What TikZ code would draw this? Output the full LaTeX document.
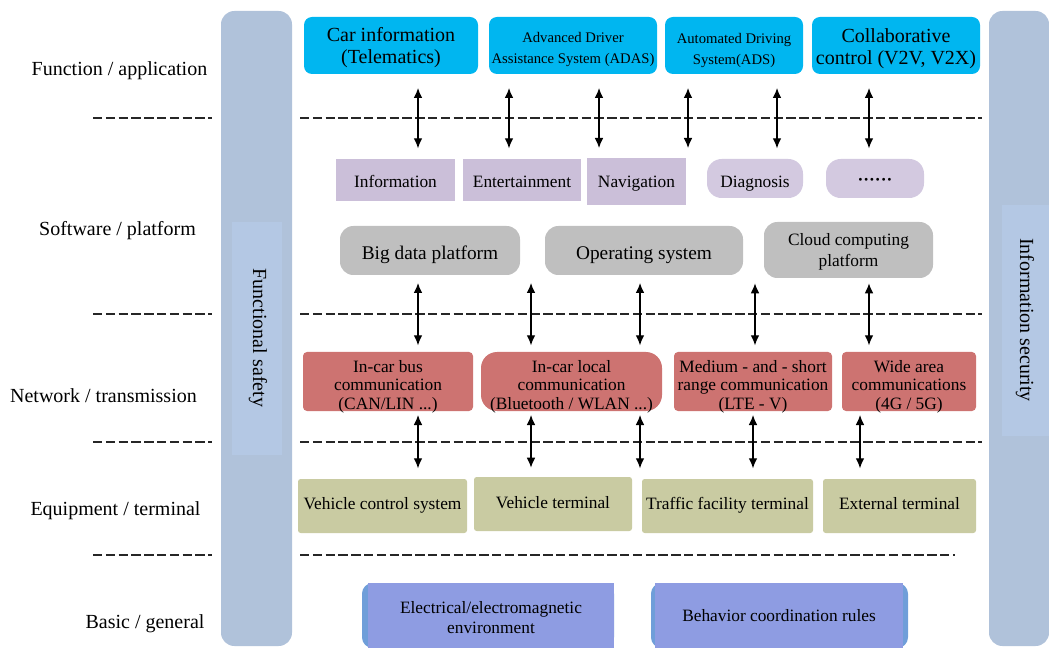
\documentclass[tikz,border=0pt]{standalone}
\usepackage{fontspec}
\setmainfont{Liberation Serif}
\usetikzlibrary{arrows.meta}
\definecolor{cyanc}{RGB}{0,182,240}
\definecolor{barc}{RGB}{176,194,218}
\definecolor{barin}{RGB}{180,200,228}
\definecolor{purc}{RGB}{203,191,217}
\definecolor{purl}{RGB}{211,201,224}
\definecolor{grayc}{RGB}{191,191,191}
\definecolor{redc}{RGB}{205,115,113}
\definecolor{olivec}{RGB}{201,203,162}
\definecolor{bluec}{RGB}{142,156,226}
\definecolor{blueedge}{RGB}{111,158,217}
\newcommand\fbig{\fontsize{15}{16.5}\selectfont}
\newcommand\fmid{\fontsize{13}{14}\selectfont}
\newcommand\fsmall{\fontsize{11}{15.8}\selectfont}
% \bx{style}{name}{x1}{y1}{x2}{y2}{dy}{text}
\newcommand\bx[8]{%
  \pgfmathsetmacro\bxw{(#5-#3)*0.75}%
  \pgfmathsetmacro\bxh{(#6-#4)*0.75}%
  \node[#1, minimum width=\bxw pt, minimum height=\bxh pt] (#2) at ({(#3+#5)/2},{(#4+#6)/2}) {};%
  \node[#1, fill=none, draw=none, minimum width=0pt, minimum height=0pt] (#2-t) at ({(#3+#5)/2},{(#4+#6)/2+#7}) {#8};%
}
\begin{document}
\begin{tikzpicture}[x=0.75pt,y=-0.75pt,
  box/.style={inner sep=0pt, outer sep=0pt, align=center, text=black},
  topbox/.style={box, fill=cyanc, rounded corners=6pt},
  purbox/.style={box, fill=purc, font=\fmid},
  purround/.style={box, fill=purl, rounded corners=11pt, font=\fmid},
  graybox/.style={box, fill=grayc, rounded corners=10pt},
  redbox/.style={box, fill=redc, rounded corners=3pt, font=\fmid},
  olivebox/.style={box, fill=olivec, rounded corners=2pt, font=\fmid},
  bluebox/.style={box, fill=bluec, font=\fmid},
  blueedgebox/.style={box, fill=blueedge, rounded corners=8pt},
  sidebar/.style={box, fill=barc, rounded corners=10pt},
  sideinner/.style={box, fill=barin},
  sidetext/.style={inner sep=0pt, rotate=-90, font=\fbig},
  layerlabel/.style={inner sep=0pt, font=\fbig},
  dashline/.style={draw=black!85, line width=0.8pt, dash pattern=on 7pt off 2.6pt},
  bi/.style={{Latex[length=7.5pt,width=6.5pt]}-{Latex[length=7.5pt,width=6.5pt]}, line width=0.9pt},
]
\useasboundingbox (0,0) rectangle (1049,648);

% side bars
\bx{sidebar}{fsbar}{221}{11}{292}{646}{0}{}
\bx{sideinner}{fsin}{232}{222}{282}{455}{0}{}
\node[sidetext] (fs) at (258,338) {Functional safety};
\bx{sidebar}{isbar}{989}{11}{1049}{646}{0}{}
\bx{sideinner}{isin}{1002}{205}{1049}{436}{0}{}
\node[sidetext] (is) at (1025,320) {Information security};

% layer labels
\node[layerlabel] (l1) at (119.5,71) {Function / application};
\node[layerlabel] (l2) at (117.5,231) {Software / platform};
\node[layerlabel] (l3) at (103.5,396) {Network / transmission};
\node[layerlabel] (l4) at (115.5,511) {Equipment / terminal};
\node[layerlabel] (l5) at (145,624) {Basic / general};

% dashed separators
\coordinate (dl1a) at (93,118);  \coordinate (dl1b) at (212,118);
\coordinate (dl2a) at (93,314);  \coordinate (dl2b) at (212,314);
\coordinate (dl3a) at (93,442);  \coordinate (dl3b) at (212,442);
\coordinate (dl4a) at (93,555);  \coordinate (dl4b) at (212,555);
\coordinate (dm1a) at (300,118); \coordinate (dm1b) at (982,118);
\coordinate (dm2a) at (300,314); \coordinate (dm2b) at (982,314);
\coordinate (dm3a) at (300,442); \coordinate (dm3b) at (982,442);
\coordinate (dm4a) at (300,555); \coordinate (dm4b) at (955,555);
\foreach \n in {1,2,3,4}{
  \draw[dashline] (dl\n a) -- (dl\n b);
  \draw[dashline] (dm\n a) -- (dm\n b);
}

% function / application
\bx{topbox, font=\fbig}{car}{304}{17}{478}{74}{2.5}{Car information\\(Telematics)}
\bx{topbox, font=\fsmall}{adas}{489}{17}{657}{74}{4}{Advanced Driver\\Assistance System (ADAS)}
\bx{topbox, font=\fsmall}{ads}{665}{17}{803}{74}{5}{Automated Driving\\System(ADS)}
\bx{topbox, font=\fbig}{collab}{812}{17}{980}{74}{3}{Collaborative\\control (V2V, V2X)}

% software / platform
\bx{purbox}{info}{336}{159}{455}{201}{1}{Information}
\bx{purbox}{ent}{463}{159}{581}{201}{2}{Entertainment}
\bx{purbox}{nav}{587}{158}{686}{205}{2}{Navigation}
\bx{purround}{diag}{707}{159}{803}{198}{5}{Diagnosis}
\bx{purround}{dots}{826}{159}{924}{198}{3}{\textbf{······}}

\bx{graybox, font=\fontsize{14.5}{16}\selectfont}{big}{340}{226}{520}{275}{4}{Big data platform}
\bx{graybox, font=\fontsize{14.5}{16}\selectfont}{os}{545}{226}{743}{275}{5}{Operating system}
\bx{graybox, font=\fontsize{13}{15.5}\selectfont}{cloud}{764}{222}{933}{278}{2}{Cloud computing\\platform}

% network / transmission
\bx{redbox}{bus}{303}{352}{473}{411}{5}{In-car bus\\communication\\(CAN/LIN ...)}
\bx{redbox, rounded corners=12pt}{local}{481}{352}{662}{411}{5}{In-car local\\communication\\(Bluetooth / WLAN ...)}
\bx{redbox}{med}{674}{352}{832}{411}{5}{Medium - and - short\\range communication\\(LTE - V)}
\bx{redbox}{wide}{842}{352}{976}{411}{5}{Wide area\\communications\\(4G / 5G)}

% equipment / terminal
\bx{olivebox}{vcs}{298}{479}{467}{533}{-1}{Vehicle control system}
\bx{olivebox}{vt}{474}{477}{632}{531}{-1}{Vehicle terminal}
\bx{olivebox}{tft}{642}{479}{813}{533}{-1}{Traffic facility terminal}
\bx{olivebox}{ext}{823}{479}{976}{533}{-2}{External terminal}

% basic / general
\bx{blueedgebox}{elecbg}{362}{583}{614}{648}{0}{}
\bx{bluebox}{elec}{368}{583}{614}{648}{2.5}{Electrical/electromagnetic\\[1pt]environment}
\bx{blueedgebox}{behbg}{651}{583}{908}{648}{0}{}
\bx{bluebox}{beh}{655}{583}{903}{648}{0}{Behavior coordination rules}

% arrow x positions
\foreach \xx in {418,509,531,599,640,688,753,755,777,860,869}{
  \coordinate (x\xx) at (\xx,0);
}
% band 1
\draw[bi, shorten <=10.5pt, shorten >=8pt] (car.south -| x418) -- (info.north -| x418);
\draw[bi, shorten <=10.5pt, shorten >=8pt] (adas.south -| x509) -- (ent.north -| x509);
\draw[bi, shorten <=10.5pt, shorten >=7.5pt] (adas.south -| x599) -- (nav.north -| x599);
\draw[bi, shorten <=10.5pt, shorten >=7.5pt] (ads.south -| x688) -- (nav.north -| x688);
\draw[bi, shorten <=10.5pt, shorten >=8pt] (ads.south -| x777) -- (diag.north -| x777);
\draw[bi, shorten <=10.5pt, shorten >=8pt] (collab.south -| x869) -- (dots.north -| x869);
% band 2
\draw[bi, shorten <=6pt, shorten >=5pt] (big.south -| x418) -- (bus.north -| x418);
\draw[bi, shorten <=6pt, shorten >=5pt] (big.south -| x531) -- (local.north -| x531);
\draw[bi, shorten <=6pt, shorten >=5pt] (os.south -| x640) -- (local.north -| x640);
\draw[bi, shorten <=4pt, shorten >=5pt] (cloud.south -| x755) -- (med.north -| x755);
\draw[bi, shorten <=4pt, shorten >=5pt] (cloud.south -| x869) -- (wide.north -| x869);
% band 3
\draw[bi, shorten <=3pt, shorten >=8pt] (bus.south -| x418) -- (vcs.north -| x418);
\draw[bi, shorten <=3pt, shorten >=7pt] (local.south -| x531) -- (vt.north -| x531);
\draw[bi, shorten <=3pt, shorten >=8pt] (local.south -| x640) -- (tft.north -| x640);
\draw[bi, shorten <=3pt, shorten >=8pt] (med.south -| x753) -- (tft.north -| x753);
\draw[bi, shorten <=3pt, shorten >=8pt] (wide.south -| x860) -- (ext.north -| x860);
\end{tikzpicture}
\end{document}
